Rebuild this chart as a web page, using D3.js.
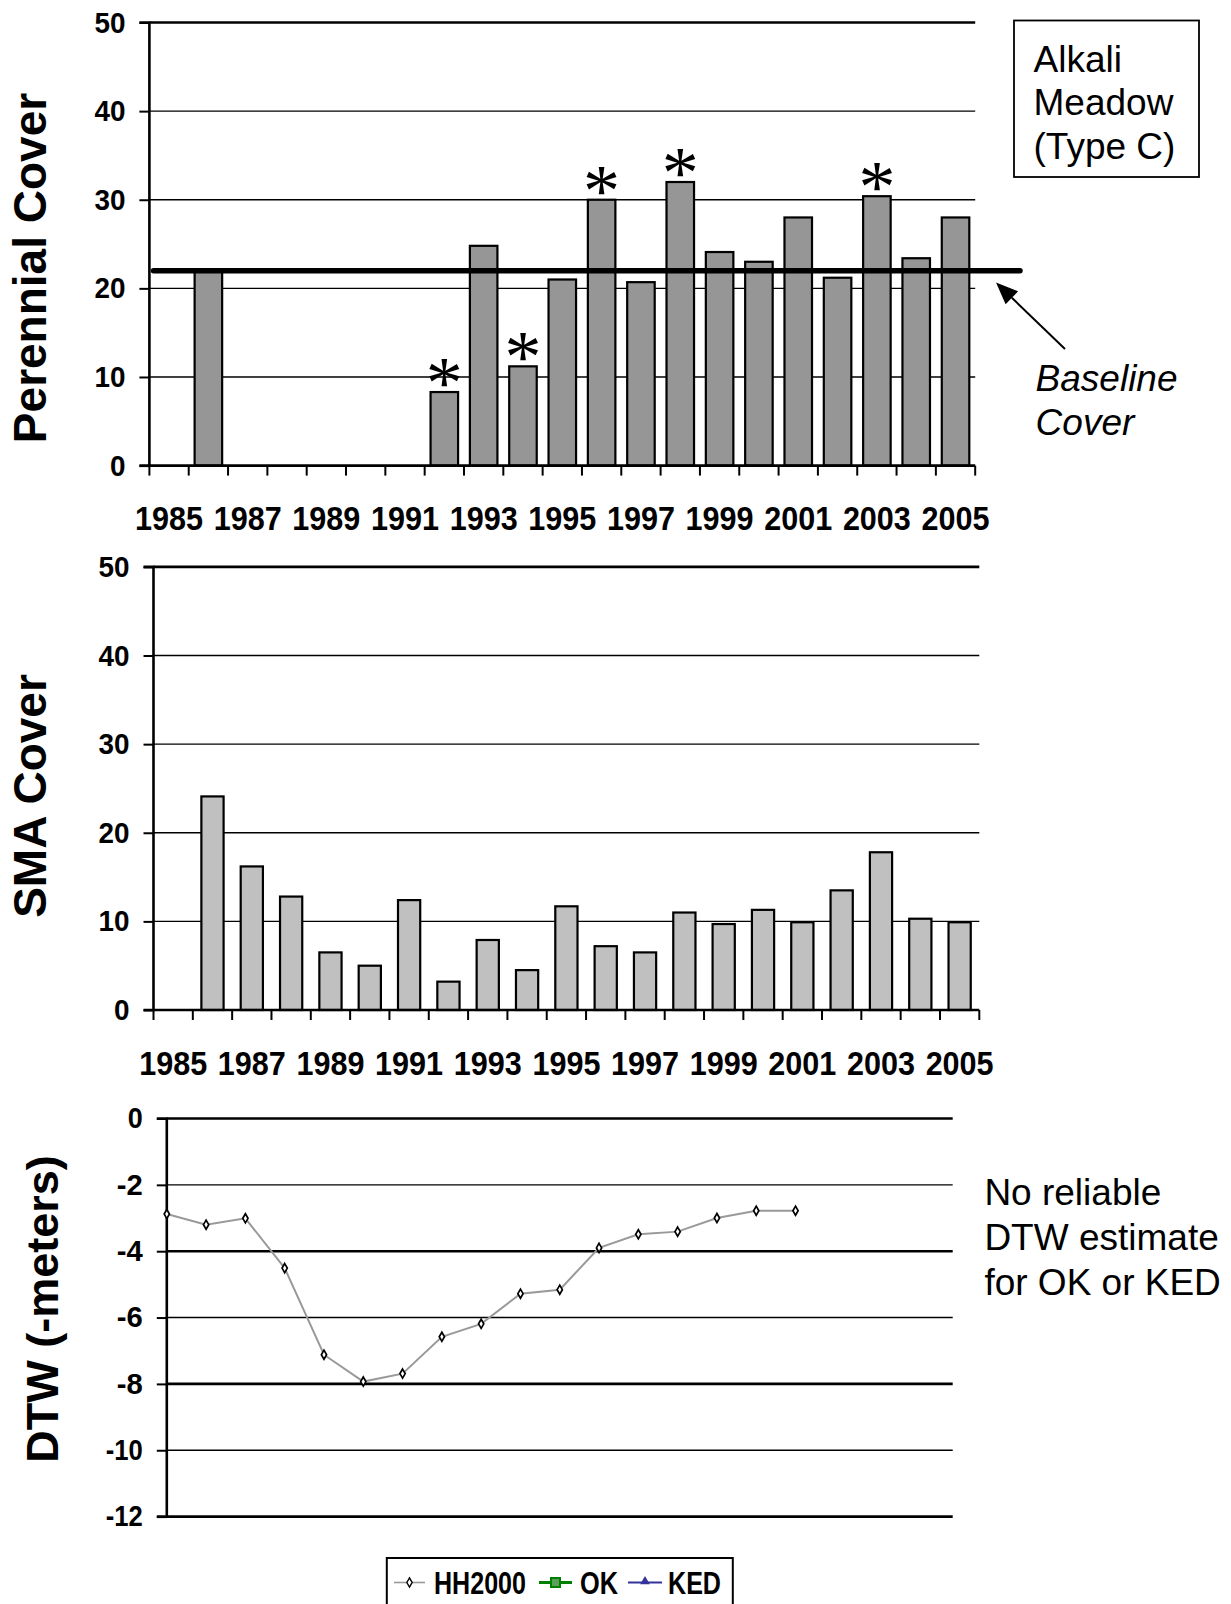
<!DOCTYPE html>
<html>
<head>
<meta charset="utf-8">
<script src="https://cdn.jsdelivr.net/npm/d3@7"></script>
<style>
  html, body { margin: 0; padding: 0; background: #fff; }
  svg { display: block; }
  text { font-family: "Liberation Sans", Arial, Helvetica, sans-serif; fill: #000; }
</style>
</head>
<body>
<svg id="chart" width="1231" height="1604"></svg>
<script>
// ---- data ----
const years = [1985, 1986, 1987, 1988, 1989, 1990, 1991, 1992, 1993, 1994, 1995,
               1996, 1997, 1998, 1999, 2000, 2001, 2002, 2003, 2004, 2005];
const yearLabels = [1985, 1987, 1989, 1991, 1993, 1995, 1997, 1999, 2001, 2003, 2005];

// perennial cover (%), no survey in 1985 and 1987-1991
const perennialCover = [null, 22.0, null, null, null, null, null, 8.3, 24.8, 11.2, 21.0,
                        30.0, 20.7, 32.0, 24.1, 23.0, 28.0, 21.2, 30.4, 23.4, 28.0];
const baselineCover = 22;
const significantYears = [1992, 1994, 1996, 1998, 2003];

// SMA cover (%)
const smaCover = [null, 24.1, 16.2, 12.8, 6.5, 5.0, 12.4, 3.2, 7.9, 4.5, 11.7,
                  7.2, 6.5, 11.0, 9.7, 11.3, 9.9, 13.5, 17.8, 10.3, 9.9];

// depth to water (-m), HH2000 estimate
const dtwYears = [1985, 1986, 1987, 1988, 1989, 1990, 1991, 1992, 1993,
                  1994, 1995, 1996, 1997, 1998, 1999, 2000, 2001];
const dtwHH2000 = [-2.88, -3.20, -3.01, -4.51, -7.12, -7.93, -7.69, -6.58, -6.19,
                   -5.28, -5.16, -3.90, -3.49, -3.41, -3.00, -2.78, -2.78];

const coverTicks = [0, 10, 20, 30, 40, 50];
const dtwTicks = [0, -2, -4, -6, -8, -10, -12];
const legendItems = ["HH2000", "OK", "KED"];

const svg = d3.select("#chart");

// narrow-set numeric labels: fixed width per character
function squeeze(sel, perChar) {
  sel.attr("textLength", function () { return this.textContent.length * perChar; })
     .attr("lengthAdjust", "spacingAndGlyphs");
}

// ---- bar panel helper ----
function barPanel(cfg) {
  const x = d3.scaleBand().domain(years).range([cfg.left, cfg.right])
    .paddingInner(cfg.pad).paddingOuter(cfg.pad / 2);
  const y = d3.scaleLinear().domain([0, 50]).range([cfg.bottom, cfg.top]);
  const g = svg.append("g");

  // gridlines
  g.selectAll("line.grid").data(coverTicks.filter(t => t > 0)).join("line")
    .attr("x1", cfg.left).attr("x2", cfg.right)
    .attr("y1", d => y(d)).attr("y2", d => y(d))
    .attr("stroke", "#000").attr("stroke-width", d => d === 50 ? 2.6 : 1.4);

  // bars
  const rows = years.map((yr, i) => ({ yr, v: cfg.values[i] })).filter(d => d.v != null);
  g.selectAll("rect.bar").data(rows).join("rect")
    .attr("x", d => x(d.yr)).attr("width", x.bandwidth())
    .attr("y", d => y(d.v)).attr("height", d => y(0) - y(d.v))
    .attr("fill", cfg.fill).attr("stroke", "#000").attr("stroke-width", 2.2);

  // y axis
  const ya = g.append("g").attr("transform", `translate(${cfg.left},0)`)
    .call(d3.axisLeft(y).tickValues(coverTicks).tickSize(10).tickPadding(14).tickFormat(d3.format("d")));
  ya.select(".domain").attr("stroke-width", 2.6).attr("d", `M-10,${cfg.top}H0V${cfg.bottom}H-10`);
  ya.selectAll(".tick line").attr("stroke-width", 2);
  ya.selectAll(".tick text").attr("font-size", 30).attr("font-weight", "bold")
    .attr("font-family", "'Liberation Sans', Arial, sans-serif")
    .call(squeeze, 15.5);

  // x axis: ticks between categories
  const step = x.step();
  const bounds = d3.range(years.length + 1).map(i => cfg.left + i * step);
  g.append("line").attr("x1", cfg.left).attr("x2", cfg.right)
    .attr("y1", cfg.bottom).attr("y2", cfg.bottom)
    .attr("stroke", "#000").attr("stroke-width", 2.6);
  g.selectAll("line.xtick").data(bounds).join("line")
    .attr("x1", d => d).attr("x2", d => d)
    .attr("y1", cfg.bottom).attr("y2", cfg.bottom + 10)
    .attr("stroke", "#000").attr("stroke-width", 2);
  g.selectAll("text.year").data(yearLabels).join("text")
    .attr("x", d => x(d) + x.bandwidth() / 2 - 34).attr("y", cfg.bottom + 64.5)
    .attr("font-size", 33).attr("font-weight", "bold")
    .text(d => d)
    .call(squeeze, 17);

  // axis title
  g.append("text")
    .attr("transform", `translate(${cfg.titleX},${cfg.titleY}) rotate(-90)`)
    .attr("text-anchor", "middle").attr("font-size", 46).attr("font-weight", "bold")
    .text(cfg.title);

  return { x, y, g };
}

// ---- panel 1: perennial cover ----
const p1 = barPanel({
  left: 149.4, right: 975.2, top: 22.5, bottom: 465.6, pad: 0.30,
  values: perennialCover, fill: "#969696",
  title: "Perennial Cover", titleX: 46, titleY: 268
});

// baseline cover line
p1.g.append("line")
  .attr("x1", 153.5).attr("x2", 1020)
  .attr("y1", p1.y(baselineCover)).attr("y2", p1.y(baselineCover))
  .attr("stroke", "#000").attr("stroke-width", 5.5).attr("stroke-linecap", "round");

// significance markers
p1.g.selectAll("text.sig").data(significantYears).join("text")
  .attr("x", d => p1.x(d) + p1.x.bandwidth() / 2)
  .attr("y", d => p1.y(perennialCover[years.indexOf(d)]) + 16)
  .attr("text-anchor", "middle")
  .style("font-family", "'Liberation Serif', 'Times New Roman', serif")
  .attr("font-size", 74)
  .text("*");

// site label box
p1.g.append("rect").attr("x", 1014).attr("y", 20.5).attr("width", 185).attr("height", 156.5)
  .attr("fill", "#fff").attr("stroke", "#000").attr("stroke-width", 1.8);
p1.g.append("text").attr("font-size", 37)
  .selectAll("tspan").data(["Alkali", "Meadow", "(Type C)"]).join("tspan")
  .attr("x", 1033.5).attr("y", (d, i) => 71.6 + i * 43.5).text(d => d);

// baseline annotation with arrow
const tip = [996, 282.5], tail = [1065, 349];
const ang = Math.atan2(tail[1] - tip[1], tail[0] - tip[0]);
const hl = 22, hw = 9;
const bx = tip[0] + hl * Math.cos(ang), by = tip[1] + hl * Math.sin(ang);
p1.g.append("line").attr("x1", bx).attr("y1", by).attr("x2", tail[0]).attr("y2", tail[1])
  .attr("stroke", "#000").attr("stroke-width", 2);
p1.g.append("path")
  .attr("d", `M${tip[0]},${tip[1]}L${bx - hw * Math.sin(ang)},${by + hw * Math.cos(ang)}L${bx + hw * Math.sin(ang)},${by - hw * Math.cos(ang)}Z`)
  .attr("fill", "#000");
p1.g.append("text").attr("font-size", 37).attr("font-style", "italic")
  .selectAll("tspan").data(["Baseline", "Cover"]).join("tspan")
  .attr("x", 1035.6).attr("y", (d, i) => 391 + i * 44).text(d => d);

// ---- panel 2: SMA cover ----
barPanel({
  left: 153.5, right: 979.3, top: 566.9, bottom: 1010, pad: 0.435,
  values: smaCover, fill: "#c0c0c0",
  title: "SMA Cover", titleX: 46, titleY: 796
});

// ---- panel 3: depth to water ----
const p3 = { left: 166.8, right: 952.7, top: 1118.5, bottom: 1516.6 };
const x3 = d3.scaleLinear().domain([1985, 2005]).range([p3.left, p3.right]);
const y3 = d3.scaleLinear().domain([-12, 0]).range([p3.bottom, p3.top]);
const g3 = svg.append("g");

g3.selectAll("line.grid").data(dtwTicks).join("line")
  .attr("x1", p3.left).attr("x2", p3.right)
  .attr("y1", d => y3(d)).attr("y2", d => y3(d))
  .attr("stroke", "#000").attr("stroke-width", d => d % 4 === 0 ? 2.6 : 1.4);

const ya3 = g3.append("g").attr("transform", `translate(${p3.left},0)`)
  .call(d3.axisLeft(y3).tickValues(dtwTicks).tickSize(10).tickPadding(14).tickFormat(d3.format("d")));
ya3.select(".domain").attr("stroke-width", 2.6).attr("d", `M-10,${p3.top}H0V${p3.bottom}H-10`);
ya3.selectAll(".tick line").attr("stroke-width", 2);
ya3.selectAll(".tick text").attr("font-size", 29).attr("font-weight", "bold")
  .attr("font-family", "'Liberation Sans', Arial, sans-serif")
  .text(d => d === 0 ? "0" : "-" + Math.abs(d))
  .attr("textLength", function () { const t = this.textContent; return t === "0" ? 15 : t.length === 2 ? 26 : 37; })
  .attr("lengthAdjust", "spacingAndGlyphs");

const dtwPts = dtwYears.map((yr, i) => ({ yr, v: dtwHH2000[i] }));
g3.append("path").datum(dtwPts)
  .attr("d", d3.line().x(d => x3(d.yr)).y(d => y3(d.v)))
  .attr("fill", "none").attr("stroke", "#999").attr("stroke-width", 2);
const diamond = d3.symbol(d3.symbolDiamond).size(24);
g3.selectAll("path.pt").data(dtwPts).join("path")
  .attr("transform", d => `translate(${x3(d.yr)},${y3(d.v)})`)
  .attr("d", diamond).attr("fill", "#fff").attr("stroke", "#000").attr("stroke-width", 1.7);

g3.append("text")
  .attr("transform", "translate(58,1309) rotate(-90)")
  .attr("text-anchor", "middle").attr("font-size", 45).attr("font-weight", "bold")
  .text("DTW (-meters)");

g3.append("text").attr("font-size", 37)
  .selectAll("tspan").data(["No reliable", "DTW estimate", "for OK or KED"]).join("tspan")
  .attr("x", 984.4).attr("y", (d, i) => 1204.5 + i * 45).text(d => d);

// ---- legend ----
const lg = svg.append("g");
lg.append("rect").attr("x", 386.8).attr("y", 1558).attr("width", 346).attr("height", 70)
  .attr("fill", "#fff").attr("stroke", "#000").attr("stroke-width", 2);
const legendStyle = {
  HH2000: { x1: 394, x2: 425, tx: 434, len: 92, color: "#999", w: 1.6 },
  OK: { x1: 539, x2: 572, tx: 580, len: 38, color: "#008000", w: 3.2 },
  KED: { x1: 628, x2: 662, tx: 668, len: 53, color: "#333399", w: 1.8 }
};
const ly = 1582.5;
legendItems.forEach(name => {
  const s = legendStyle[name];
  lg.append("line").attr("x1", s.x1).attr("x2", s.x2).attr("y1", ly).attr("y2", ly)
    .attr("stroke", s.color).attr("stroke-width", s.w);
  const cx = (s.x1 + s.x2) / 2;
  if (name === "HH2000") {
    lg.append("path").attr("transform", `translate(${cx},${ly})`).attr("d", diamond)
      .attr("fill", "#fff").attr("stroke", "#000").attr("stroke-width", 1.4);
  } else if (name === "OK") {
    lg.append("rect").attr("x", cx - 4.5).attr("y", ly - 4.5).attr("width", 9).attr("height", 9)
      .attr("fill", "#5aa05a").attr("stroke", "#008000").attr("stroke-width", 2);
  } else {
    lg.append("path").attr("transform", `translate(${cx},${ly - 1})`)
      .attr("d", d3.symbol(d3.symbolTriangle).size(40)).attr("fill", "#333399");
  }
  lg.append("text").attr("x", s.tx).attr("y", 1594)
    .attr("font-size", 31).attr("font-weight", "bold")
    .attr("textLength", s.len).attr("lengthAdjust", "spacingAndGlyphs")
    .text(name);
});
</script>
</body>
</html>
